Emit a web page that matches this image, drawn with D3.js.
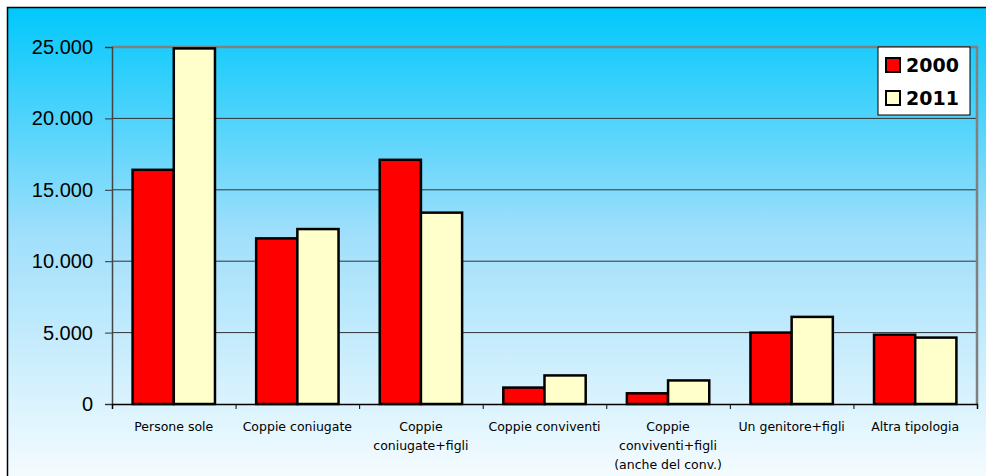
<!DOCTYPE html>
<html>
<head>
<meta charset="utf-8">
<script src="https://cdn.jsdelivr.net/npm/d3@7"></script>
<style>
  body { margin: 0; background: #fff; }
  svg { display: block; }
</style>
</head>
<body>
<div id="chart"></div>
<script>
const categories = [
  ["Persone sole"],
  ["Coppie coniugate"],
  ["Coppie", "coniugate+figli"],
  ["Coppie conviventi"],
  ["Coppie", "conviventi+figli", "(anche del conv.)"],
  ["Un genitore+figli"],
  ["Altra tipologia"]
];
const series = ["2000", "2011"];
const values2000 = [16400, 11600, 17100, 1150, 750, 5000, 4850];
const values2011 = [24900, 12250, 13400, 2000, 1650, 6100, 4650];
const yTicks = [0, 5000, 10000, 15000, 20000, 25000];
const colors = { "2000": "#ff0000", "2011": "#ffffcc" };

const W = 986, H = 476;
const margin = { top: 47, right: 9, bottom: 72, left: 112 };
const width = W - margin.left - margin.right,
  height = 404 - margin.top;

const svg = d3.select("#chart").append("svg")
  .attr("width", W).attr("height", H);

const defs = svg.append("defs");
const grad = defs.append("linearGradient")
  .attr("id", "bg").attr("x1", 0).attr("y1", 0).attr("x2", 0).attr("y2", 1);
grad.append("stop").attr("offset", "0%").attr("stop-color", "#00c8fc");
grad.append("stop").attr("offset", "45%").attr("stop-color", "#9fdffb");
grad.append("stop").attr("offset", "100%").attr("stop-color", "#ffffff");

// outer chart area (cropped on right/bottom)
svg.append("rect")
  .attr("x", 7.5).attr("y", 7.5)
  .attr("width", 1000).attr("height", 500)
  .attr("fill", "url(#bg)")
  .attr("stroke", "#000").attr("stroke-width", 1.5);

const g = svg.append("g")
  .attr("transform", `translate(${margin.left},${margin.top})`);

const x0 = d3.scaleBand().domain(d3.range(categories.length)).range([0, width]);
const x1 = d3.scaleBand().domain(series).range([x0.bandwidth() / 6, x0.bandwidth() * 5 / 6]);
const y = d3.scaleLinear().domain([0, 25000]).range([height, 0]);

const fmt = d => d3.format(",")(d).replace(/,/g, ".");

// gridlines
g.selectAll(".grid").data(yTicks.slice(1, -1)).enter().append("line")
  .attr("x1", 0).attr("x2", width)
  .attr("y1", d => y(d)).attr("y2", d => y(d))
  .attr("stroke", "#333").attr("stroke-width", 1);

// plot border top / right
g.append("path")
  .attr("d", `M0,0H${width}V${height}`)
  .attr("fill", "none").attr("stroke", "#808080").attr("stroke-width", 2.5);

// bars
const data = categories.map((c, i) => ({ i, vals: [values2000[i], values2011[i]] }));
const grp = g.selectAll(".cat").data(data).enter().append("g")
  .attr("transform", d => `translate(${x0(d.i)},0)`);
grp.selectAll("rect").data(d => series.map((s, k) => ({ s, v: d.vals[k] }))).enter()
  .append("rect")
  .attr("x", d => x1(d.s))
  .attr("width", x1.bandwidth())
  .attr("y", d => y(d.v))
  .attr("height", d => y(0) - y(d.v))
  .attr("fill", d => colors[d.s])
  .attr("stroke", "#000").attr("stroke-width", 2.5);

// y axis
const yAxis = g.append("g")
  .call(d3.axisLeft(y).tickValues(yTicks).tickFormat(fmt).tickSize(7).tickPadding(12));
yAxis.select(".domain").attr("stroke", "#444").attr("stroke-width", 1.5);
yAxis.selectAll(".tick line").attr("stroke", "#333");
yAxis.selectAll("text")
  .attr("font-family", "'Liberation Sans', Arial, sans-serif")
  .attr("font-size", 20).attr("fill", "#000");

// x axis
const xAxis = g.append("g").attr("transform", `translate(0,${height})`)
  .call(d3.axisBottom(d3.scaleLinear().domain([0, categories.length]).range([0, width]))
    .tickValues(d3.range(categories.length + 1)).tickFormat("").tickSize(5));
xAxis.select(".domain").attr("stroke", "#000").attr("stroke-width", 1.5);
xAxis.selectAll(".tick line").attr("stroke", "#000");

const labels = g.append("g").selectAll("text").data(categories).enter().append("text")
  .attr("x", (d, i) => x0(i) + x0.bandwidth() / 2)
  .attr("y", height + 27)
  .attr("text-anchor", "middle")
  .attr("font-family", "Tahoma, 'DejaVu Sans', sans-serif")
  .attr("font-size", 12.5).attr("fill", "#000");
labels.selectAll("tspan").data(d => d).enter().append("tspan")
  .attr("x", function () { return this.parentNode.getAttribute("x"); })
  .attr("dy", (d, i) => i === 0 ? 0 : 19)
  .text(d => d);

// legend
const legend = svg.append("g").attr("transform", "translate(878,47)");
legend.append("rect")
  .attr("width", 92).attr("height", 68)
  .attr("fill", "#fff").attr("stroke", "#000").attr("stroke-width", 1);
const li = legend.selectAll(".li").data(series).enter().append("g")
  .attr("transform", (d, i) => `translate(8,${11 + i * 33})`);
li.append("rect")
  .attr("width", 14).attr("height", 14)
  .attr("fill", d => colors[d]).attr("stroke", "#000").attr("stroke-width", 2);
li.append("text")
  .attr("x", 20).attr("y", 14)
  .attr("font-family", "'DejaVu Sans', Verdana, sans-serif")
  .attr("font-weight", "bold").attr("font-size", 19)
  .text(d => d);
</script>
</body>
</html>
